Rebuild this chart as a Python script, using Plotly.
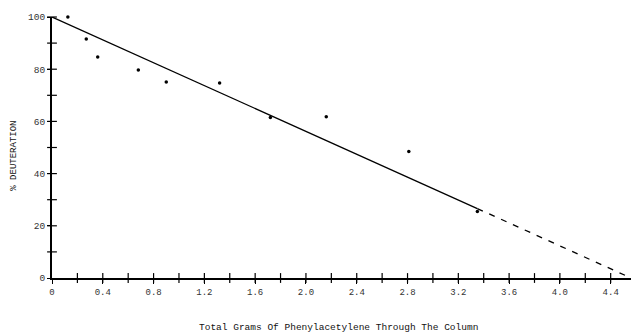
import plotly.graph_objects as go

# Data
grams = [0.125, 0.27, 0.36, 0.68, 0.90, 1.32, 1.72, 2.16, 2.81, 3.35]
deuteration = [100, 91.6, 84.7, 79.7, 75.1, 74.7, 61.5, 61.8, 48.5, 25.5]

fit_x = [0, 3.35]
fit_y = [100, 26.6]
extrap_x = [3.35, 4.56]
extrap_y = [26.6, 0]

x_tick_vals = [0, 0.4, 0.8, 1.2, 1.6, 2.0, 2.4, 2.8, 3.2, 3.6, 4.0, 4.4]
x_tick_text = ["0", "0.4", "0.8", "1.2", "1.6", "2.0", "2.4", "2.8", "3.2", "3.6", "4.0", "4.4"]
x_minor = [0.2, 0.6, 1.0, 1.4, 1.8, 2.2, 2.6, 3.0, 3.4, 3.8, 4.2]
y_tick_vals = [0, 20, 40, 60, 80, 100]
y_minor = [10, 30, 50, 70, 90]

x_title = "Total Grams Of Phenylacetylene Through The Column"
y_title = "% DEUTERATION"

mono = "Liberation Mono"

fig = go.Figure()

fig.add_trace(go.Scatter(x=fit_x, y=fit_y, mode="lines",
                         line=dict(color="black", width=1.3), cliponaxis=False))
fig.add_trace(go.Scatter(x=extrap_x, y=extrap_y, mode="lines",
                         line=dict(color="black", width=1.3, dash="6px,7px"), cliponaxis=False))
fig.add_trace(go.Scatter(x=grams, y=deuteration, mode="markers",
                         marker=dict(color="black", size=3.5), cliponaxis=False))

# crossing tick marks
all_x_ticks = sorted(x_tick_vals[1:] + x_minor)
fig.add_trace(go.Scatter(x=all_x_ticks, y=[0] * len(all_x_ticks), mode="markers",
                         marker=dict(symbol="line-ns", size=7,
                                     line=dict(color="black", width=1.2)),
                         cliponaxis=False))
all_y_ticks = sorted(y_tick_vals[1:] + y_minor)
fig.add_trace(go.Scatter(x=[0] * len(all_y_ticks), y=all_y_ticks, mode="markers",
                         marker=dict(symbol="line-ew", size=7,
                                     line=dict(color="black", width=1.2)),
                         cliponaxis=False))

fig.update_layout(
    width=631, height=335,
    margin=dict(l=52, r=0, t=17, b=57, autoexpand=False),
    paper_bgcolor="white", plot_bgcolor="white",
    showlegend=False,
    xaxis=dict(
        range=[0, 4.56], showgrid=False, zeroline=False, automargin=False,
        showline=True, linecolor="black", linewidth=2,
        tickvals=x_tick_vals, ticktext=x_tick_text,
        ticks="outside", ticklen=4, tickcolor="black",
        tickfont=dict(family=mono, size=9, color="#333"),
    ),
    yaxis=dict(
        range=[0, 100], showgrid=False, zeroline=False, automargin=False,
        showline=True, linecolor="black", linewidth=2,
        tickvals=y_tick_vals,
        ticks="outside", ticklen=3, tickcolor="black",
        tickfont=dict(family=mono, size=9.5, color="#333"),
    ),
    annotations=[
        dict(text=x_title, xref="paper", yref="paper", x=0.494, y=-0.19,
             xanchor="center", yanchor="middle", showarrow=False,
             font=dict(family=mono, size=9.5, color="#111")),
        dict(text=y_title, xref="paper", yref="paper", x=-0.065, y=0.47,
             xanchor="center", yanchor="middle", showarrow=False, textangle=-90,
             font=dict(family=mono, size=9, color="#111")),
    ],
)

fig.write_html("out.html", config={"displayModeBar": False},
               post_script="document.body.style.margin='0';document.body.style.overflow='hidden';")
